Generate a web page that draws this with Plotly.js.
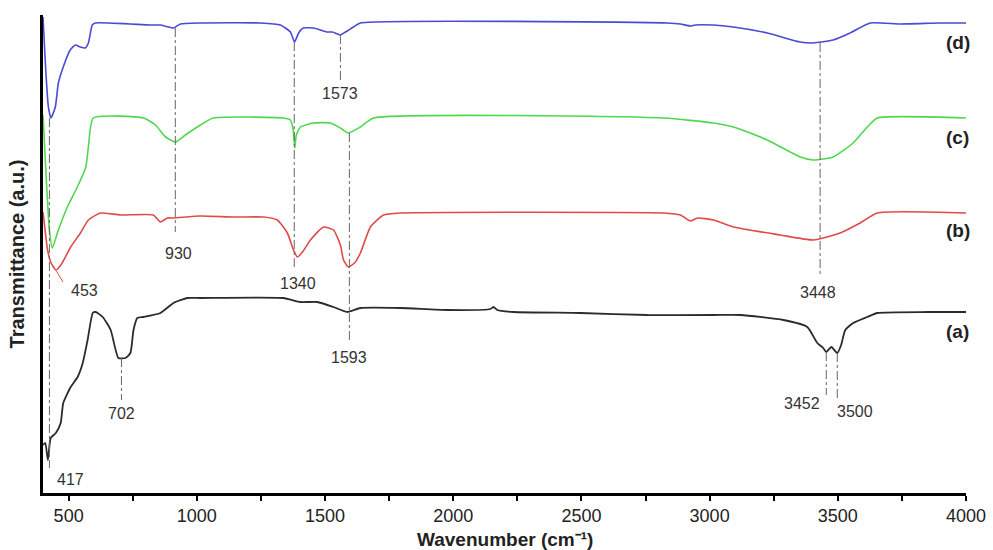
<!DOCTYPE html>
<html>
<head>
<meta charset="utf-8">
<script src="https://cdn.plot.ly/plotly-3.0.1.min.js"></script>
<style>html,body{margin:0;padding:0;background:#fff;}#chart{width:993px;height:550px;}</style>
</head>
<body>
<div id="chart"></div>
<script>
// Wavenumber (cm-1) and transmittance (a.u., stacked spectra)
var xA = [400,409,419,430,450,469,479,508,535,555,574,594,606,633,664,694,722,741,753,768,792,858,909,963,1014,1337,1404,1470,1533,1587,1638,1794,1977,2145,2157,2172,2235,2496,2757,3015,3120,3288,3381,3420,3443,3455,3475,3498,3513,3529,3560,3615,3654,3850,4000];
var yA = [48,50,33,55,60,70,90,106,116,130,153,180,181,176,163,135,135,140,163,175,176,180,190,195,195,195,191,191,186,181,185,185,183,184,186,183,181,180,178,178,178,173,166,150,145,141,146,140,148,163,170,176,180,181,181];

var xB = [400,418,430,450,470,508,546,577,624,702,830,858,885,909,1014,1143,1260,1314,1353,1377,1392,1412,1443,1494,1533,1560,1572,1591,1615,1638,1677,1728,1794,2820,2886,2925,2952,3015,3093,3276,3404,3509,3587,3654,4000];
var yB = [281,243,231,223,228,246,260,273,280,278,278,271,275,275,277,276,276,273,260,243,236,241,253,266,263,248,233,226,230,240,266,278,280,280,278,272,275,273,266,258,253,260,270,280,280];

var xC = [400,413,425,436,460,495,534,567,577,596,792,839,878,917,955,1014,1064,1337,1365,1376,1382,1388,1404,1455,1521,1560,1591,1638,1689,2820,3015,3093,3225,3354,3404,3482,3560,3615,3654,4000];
var yC = [378,313,263,245,263,286,306,326,346,375,375,368,356,351,358,368,375,375,373,363,345,358,366,370,370,365,360,366,375,375,370,366,353,336,333,336,350,366,375,375];

var xD = [400,410,421,431,448,460,479,506,526,545,565,577,592,604,818,858,909,936,1014,1248,1326,1365,1381,1397,1415,1455,1509,1529,1560,1580,1611,1638,2834,2886,2925,2944,3014,3092,3225,3353,3404,3482,3548,3626,3743,3899,4000];
var yD = [476,426,386,375,386,410,426,443,448,446,445,450,468,470,468,468,465,469,470,470,468,461,451,460,465,465,461,461,458,461,466,470,470,469,467,468,468,466,460,451,450,453,460,470,469,470,470];

// Peak markers: label, x of dashed guide, guide top / bottom (a.u.), label position
var peakText   = ['417','930','1340','1573','1593','3448','702','3452','3500'];
var peakX      = [425, 916, 1380, 1560, 1595, 3431, 706, 3455, 3498];
var peakTop    = [375, 465, 451, 458, 360, 450, 135, 141, 140];
var peakBottom = [25, 261, 223, 411, 153, 216, 93, 98, 93];
var labelX     = [447, 928, 1393, 1557, 1595, 3423, 706, 3440, 3488];
var labelY     = [14, 240, 210, 400, 136, 201, 80, 90, 82];
var labelAnchor= ['left','center','center','center','center','center','center','right','left'];

var seriesNames = ['(a)','(b)','(c)','(d)'];
var seriesLabelY = [162, 263, 356, 451];
var xTicks = [500,1000,1500,2000,2500,3000,3500,4000];

var colors = ['#2b2b2b','#e04a4a','#4fd84f','#4a4ad4'];
var xs = [xA,xB,xC,xD], ys = [yA,yB,yC,yD];
var traces = [];
for (var i=0;i<4;i++){
  traces.push({x:xs[i], y:ys[i], type:'scatter', mode:'lines', name:seriesNames[i],
    line:{color:colors[i], width: i===0?1.8:1.6, shape:'spline', smoothing:0.5}, hoverinfo:'skip'});
}

var shapes = [], annotations = [];
for (var k=0;k<peakText.length;k++){
  shapes.push({type:'line', xref:'x', yref:'y', x0:peakX[k], x1:peakX[k], y0:peakTop[k], y1:peakBottom[k],
    line:{color:'#666', width:1, dash:'dashdot'}});
  annotations.push({xref:'x', yref:'y', x:labelX[k], y:labelY[k], text:peakText[k], showarrow:false,
    xanchor:labelAnchor[k], yanchor:'middle', font:{family:'Liberation Sans, Arial', size:16, color:'#333'}});
}
// leader for 453
shapes.push({type:'line', xref:'x', yref:'y', x0:452, x1:478, y0:222, y1:211, line:{color:'#e04a4a', width:1}});
annotations.push({xref:'x', yref:'y', x:561, y:203, text:'453', showarrow:false, xanchor:'center', yanchor:'middle',
  font:{family:'Liberation Sans, Arial', size:16, color:'#333'}});
for (var s=0;s<4;s++){
  annotations.push({xref:'x', yref:'y', x:3968, y:seriesLabelY[s], text:'<b>'+seriesNames[s]+'</b>', showarrow:false,
    xanchor:'center', yanchor:'middle', font:{family:'Liberation Sans, Arial', size:19, color:'#222'}});
}
// x-axis title placed below the tick labels
annotations.push({xref:'paper', yref:'paper', x:0.5, y:-0.097, xanchor:'center', yanchor:'middle',
  text:'<b>Wavenumber (cm\u207B\u00B9)</b>', showarrow:false, font:{family:'Liberation Sans, Arial', size:19, color:'#222'}});

var layout = {
  width:993, height:550,
  margin:{l:43, r:27, t:15, b:57},
  paper_bgcolor:'#fff', plot_bgcolor:'#fff',
  showlegend:false,
  font:{family:'Liberation Sans, Arial', color:'#222'},
  xaxis:{range:[400,4000], tickvals:xTicks, ticktext:xTicks.map(String), ticks:'outside', ticklen:5, tickwidth:2, tickcolor:'#000',
    minor:{ticks:'outside', dtick:250, tick0:0, ticklen:5, tickwidth:2, tickcolor:'#000'},
    showline:true, linecolor:'#000', linewidth:2.5, showgrid:false, zeroline:false,
    tickfont:{size:18, color:'#222'}},
  yaxis:{range:[0,478], showticklabels:false, ticks:'', showline:true, linecolor:'#000', linewidth:3.5,
    showgrid:false, zeroline:false,
    title:{text:'<b>Transmittance (a.u.)</b>', font:{size:20, color:'#222'}, standoff:10}},
  shapes:shapes, annotations:annotations
};
Plotly.newPlot('chart', traces, layout, {staticPlot:true, displayModeBar:false});
</script>
</body>
</html>
